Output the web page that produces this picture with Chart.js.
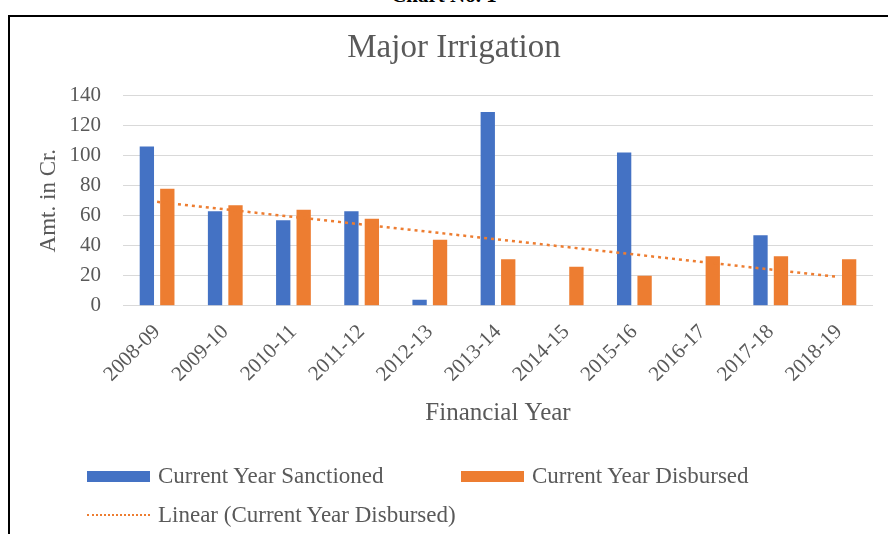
<!DOCTYPE html>
<html>
<head>
<meta charset="utf-8">
<script src="https://cdn.jsdelivr.net/npm/chart.js@4.4.1/dist/chart.umd.min.js"></script>
<style>
  body { margin: 0; width: 888px; height: 534px; overflow: hidden; background: #fff; position: relative; font-family: "Liberation Serif", "Times New Roman", serif; }
  #caption { position: absolute; top: -17px; left: 0; width: 888px; text-align: center; font-weight: bold; font-size: 21px; color: #000; }
  #frame { position: absolute; left: 8px; top: 15px; width: 920px; height: 600px; border: 2px solid #000; box-sizing: border-box; pointer-events: none; }
  #chart { position: absolute; left: 0; top: 0; }
  #legend { position: absolute; left: 87px; top: 463px; color: #595959; font-size: 23px; line-height: 24px; }
  .row { display: flex; align-items: center; height: 26px; margin-bottom: 13px; }
  .item { display: flex; align-items: center; }
  .item:first-child { width: 374px; }
  .swatch { width: 63px; height: 11px; margin-right: 8px; }
  .dots { width: 63px; height: 0; border-top: 2px dotted #ED7D31; margin-right: 8px; }
</style>
</head>
<body>
<div id="caption">Chart No. 1</div>
<canvas id="chart" width="888" height="534"></canvas>
<div id="frame"></div>
<div id="legend"></div>
<script>
const years = ['2008-09', '2009-10', '2010-11', '2011-12', '2012-13', '2013-14', '2014-15', '2015-16', '2016-17', '2017-18', '2018-19'];
const sanctioned = [106, 63, 57, 63, 4, 129, null, 102, null, 47, null];
const disbursed = [78, 67, 64, 58, 44, 31, 26, 20, 33, 33, 31];
const trendLine = [69.2, null, null, null, null, null, null, null, null, null, 19.1];
const yMax = 140;
const yStep = 20;

const textColor = '#595959';
const serif = '"Liberation Serif", "Times New Roman", serif';

const chart = new Chart(document.getElementById('chart'), {
  type: 'bar',
  data: {
    labels: years,
    datasets: [
      {
        label: 'Current Year Sanctioned',
        data: sanctioned,
        backgroundColor: '#4472C4',
        categoryPercentage: 0.6,
        barPercentage: 0.7,
        order: 2
      },
      {
        label: 'Current Year Disbursed',
        data: disbursed,
        backgroundColor: '#ED7D31',
        categoryPercentage: 0.6,
        barPercentage: 0.7,
        order: 2
      },
      {
        type: 'line',
        label: 'Linear (Current Year Disbursed)',
        data: trendLine,
        borderColor: '#ED7D31',
        borderWidth: 2.5,
        borderDash: [3, 4],
        pointRadius: 0,
        spanGaps: true,
        fill: false,
        order: 1
      }
    ]
  },
  options: {
    responsive: false,
    animation: false,
    layout: { padding: { left: 35, right: 15, top: 16, bottom: 106 } },
    plugins: {
      legend: { display: false },
      tooltip: { enabled: false },
      title: {
        display: true,
        text: 'Major Irrigation',
        color: textColor,
        font: { family: serif, size: 33, weight: 'normal' },
        padding: { top: 13, bottom: 27 }
      }
    },
    scales: {
      x: {
        grid: { display: false },
        border: { display: false },
        ticks: {
          color: textColor,
          font: { family: serif, size: 21 },
          maxRotation: 45,
          minRotation: 45,
          autoSkip: false,
          padding: 6
        },
        title: {
          display: true,
          text: 'Financial Year',
          color: textColor,
          font: { family: serif, size: 25 },
          padding: { top: 5, bottom: 0 }
        }
      },
      y: {
        min: 0,
        max: yMax,
        afterFit: s => { s.width = 88; },
        ticks: {
          stepSize: yStep,
          autoSkip: false,
          color: textColor,
          font: { family: serif, size: 21 },
          padding: 22
        },
        grid: { color: '#D9D9D9', drawTicks: false },
        border: { display: false },
        title: {
          display: true,
          text: 'Amt. in Cr.',
          color: textColor,
          font: { family: serif, size: 23 },
          padding: { top: 0, bottom: 10 }
        }
      }
    }
  }
});

// legend drawn as html so the rows can sit like the excel one
const legend = document.getElementById('legend');
const ds = chart.data.datasets;
const rows = [[ds[0], ds[1]], [ds[2]]];
rows.forEach(r => {
  const row = document.createElement('div');
  row.className = 'row';
  r.forEach(d => {
    const item = document.createElement('div');
    item.className = 'item';
    const sw = document.createElement('div');
    if (d.type === 'line') {
      sw.className = 'dots';
    } else {
      sw.className = 'swatch';
      sw.style.background = d.backgroundColor;
    }
    const txt = document.createElement('span');
    txt.textContent = d.label;
    item.appendChild(sw);
    item.appendChild(txt);
    row.appendChild(item);
  });
  legend.appendChild(row);
});
</script>
</body>
</html>
